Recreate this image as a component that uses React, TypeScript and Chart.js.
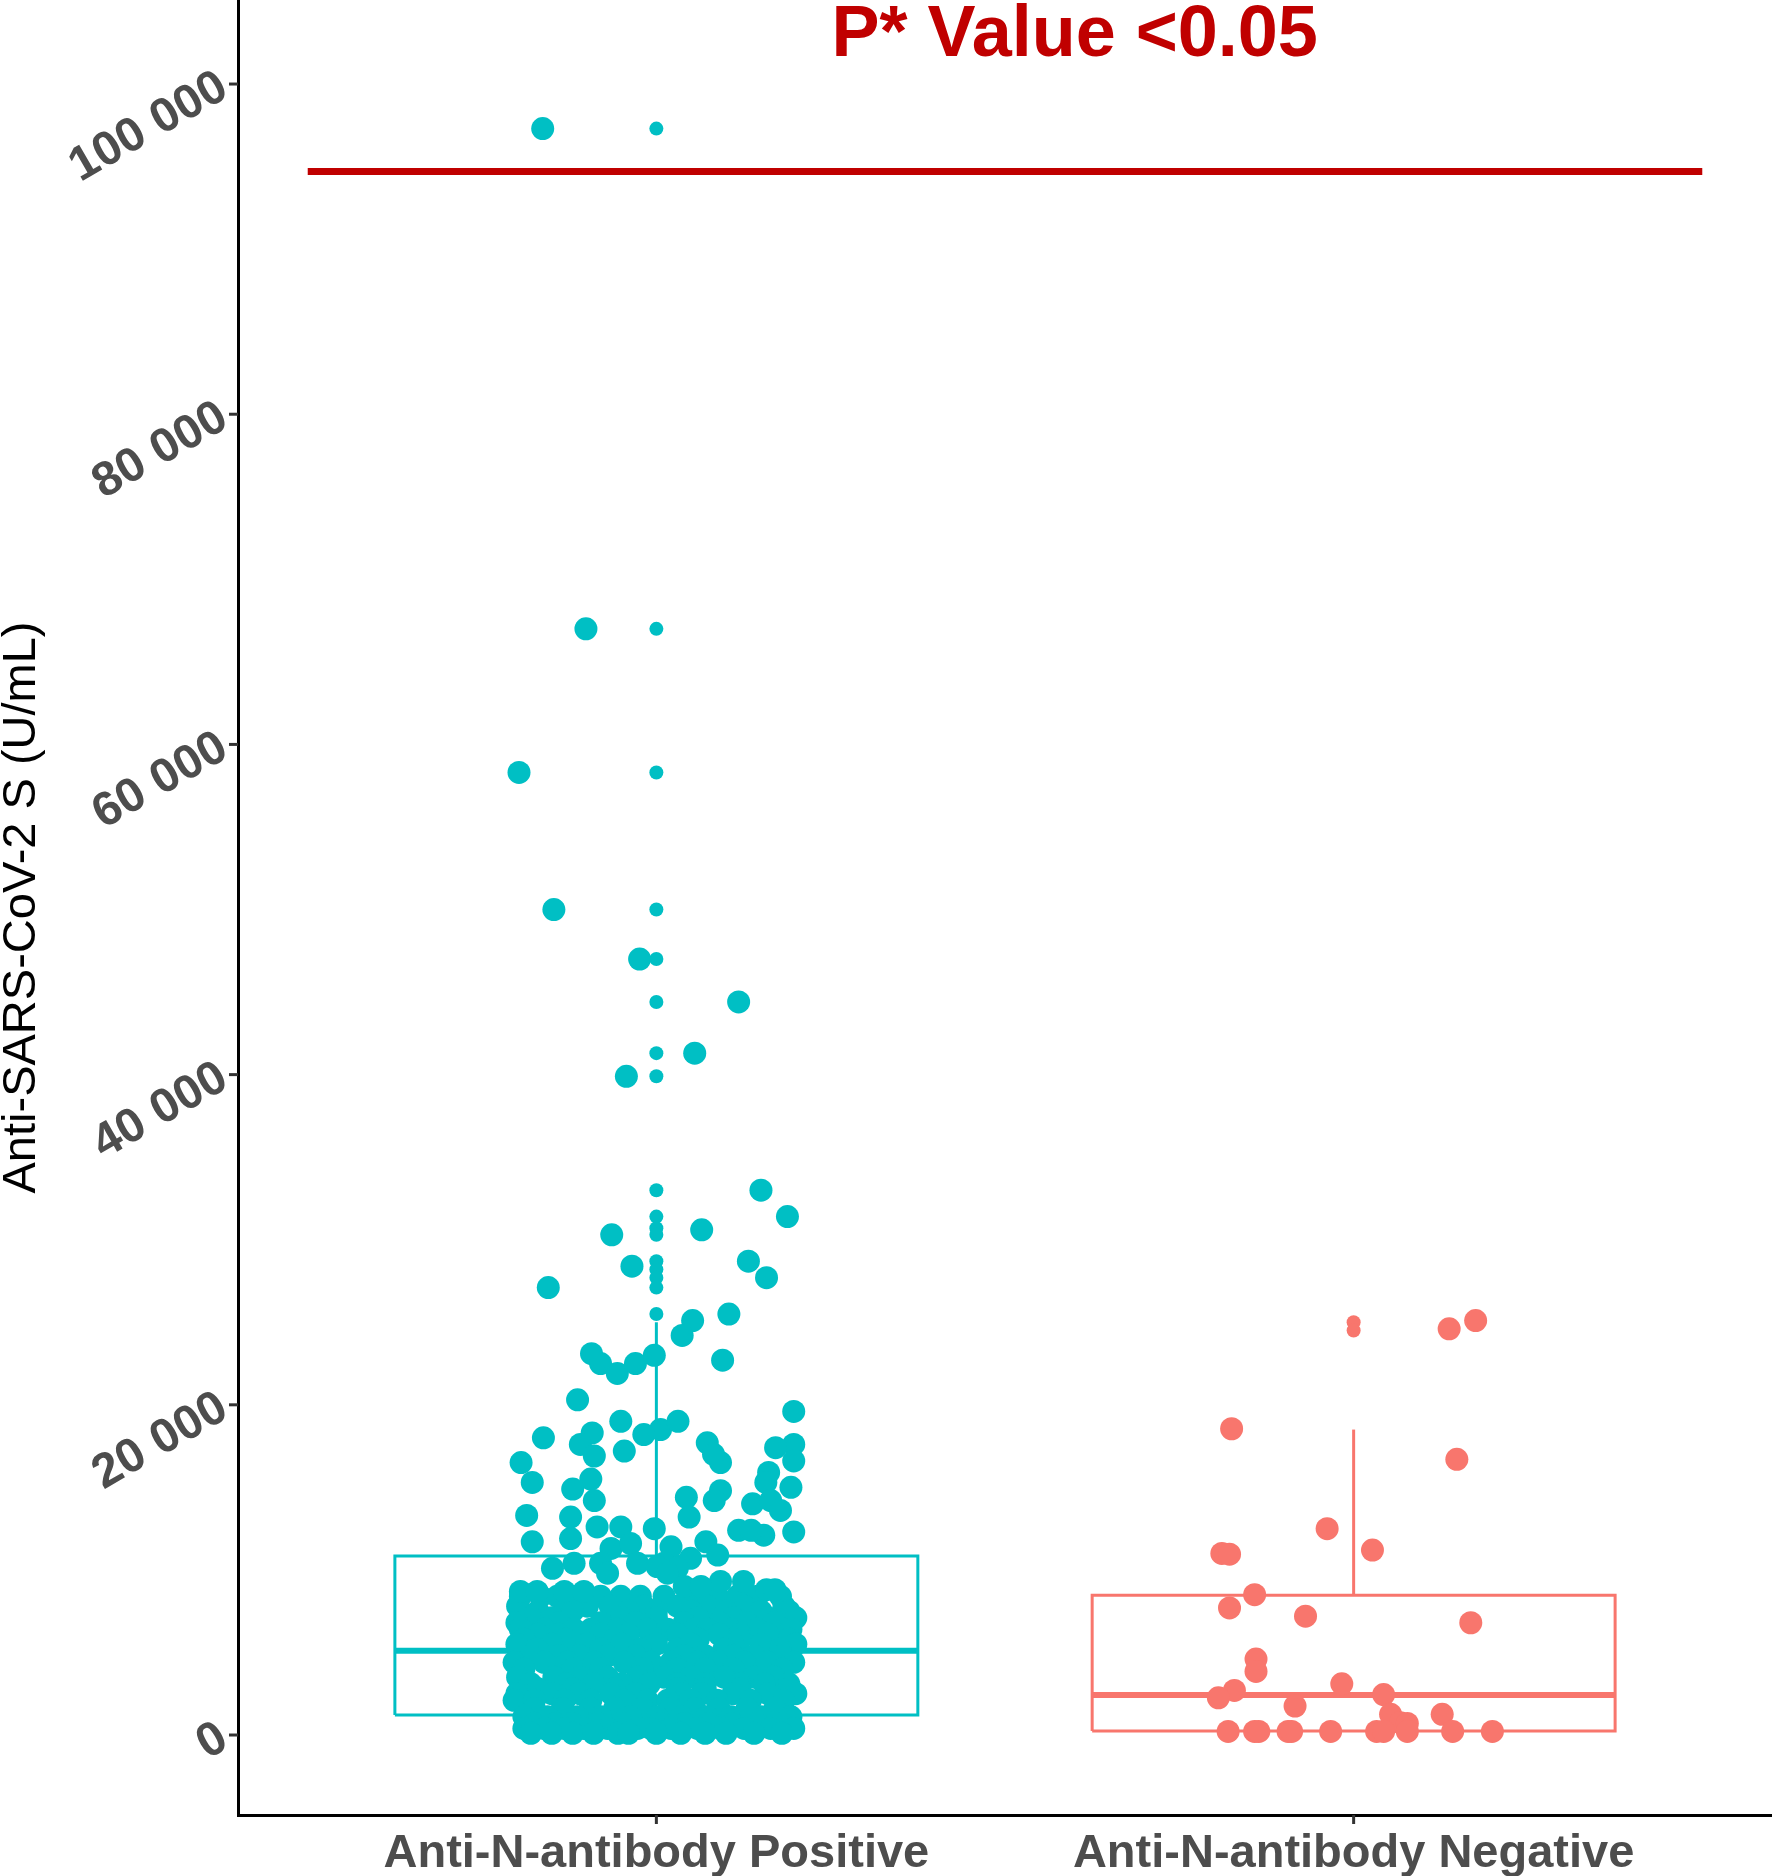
import { useEffect, useRef } from "react"
import { Chart, registerables } from "chart.js"

Chart.register(...registerables)

const FONT = "'Liberation Sans', Arial, sans-serif"

// categories and their colours
const groups = ["Anti-N-antibody Positive", "Anti-N-antibody Negative"]
const groupPositions = [1, 2]
const groupColors = ["#00BFC4", "#F8766D"]

// box stats: lower whisker, Q1, median, Q3, upper whisker
const positiveBox = [50, 1210, 5100, 10850, 25000]
const negativeBox = [220, 240, 2420, 8460, 18500]

// boxplot outliers (drawn on the group centre)
const positiveOutliers = [97300, 67000, 58300, 50000, 47000, 44400, 41300, 39900, 33000, 31400, 30700, 30300, 28700, 28200, 27700, 27100, 25500]
const negativeOutliers = [25000, 24500]

// jittered observations, Positive group (upper, sparse part)
const posX = [
  0.837, 0.899, 0.803, 0.853, 0.976, 1.118, 1.055, 0.957, 1.15, 1.188, 0.936, 1.065, 0.965, 1.132, 1.158, 0.845,
  1.052, 1.037, 1.104, 0.907, 0.92, 0.944, 0.97, 0.997, 1.095, 0.887, 1.197, 0.949, 1.006, 1.031,
  0.838, 0.982, 0.954, 0.908, 0.891, 0.911, 0.806, 0.822, 0.906, 0.88, 0.911, 0.814, 0.877, 0.822, 0.915, 0.949,
  0.877, 0.997, 0.935, 0.963, 0.851, 0.882, 0.92, 0.93, 0.973,
  1.073, 1.092, 1.082, 1.197, 1.171, 1.197, 1.161, 1.157, 1.193, 1.092, 1.083, 1.043, 1.047, 1.138, 1.164, 1.178,
  1.118, 1.154, 1.197, 1.136, 1.021, 1.071, 1.088, 1.049, 1.011, 1.03,
  0.805, 0.829, 0.868, 0.896, 1.092, 1.125, 1.158, 1.17, 1.001, 1.016, 1.04, 1.064,
]
const posY = [
  97300, 67000, 58300, 50000, 47000, 44400, 41300, 39900, 33000, 31400, 30300, 30600, 28400, 28700, 27700, 27100,
  25100, 24200, 25500, 23100, 22500, 21900, 22500, 23000, 22700, 20300, 19600, 19000, 18500, 19000,
  18000, 18200, 17200, 18300, 17600, 16900, 16500, 15300, 15500, 14900, 14200, 13300, 13200, 11700, 12600, 12600,
  11900, 12500, 11300, 11600, 10100, 10400, 10400, 9800, 10400,
  17700, 16500, 17000, 17600, 17400, 16600, 15900, 15300, 15000, 14800, 14200, 14400, 13200, 14000, 14200, 13600,
  12400, 12100, 12300, 12400, 11400, 11700, 10900, 10700, 10400, 10100,
  8700, 8700, 8700, 8700, 9300, 9300, 8800, 8800, 10200, 9800, 9000, 9000,
]

// jittered observations, Positive group (dense mass below ~9 000)
const posDenseX = [
  0.805, 0.834, 0.858, 0.887, 0.92, 0.949, 0.977, 1.011, 1.049, 1.087, 1.116, 1.145, 1.178,
  0.801, 0.868, 0.901, 0.934, 0.982, 1.03, 1.073, 1.126, 1.183,
  0.83, 0.88, 0.96, 1.0, 1.05, 1.1, 1.15, 1.19,
  0.82, 0.85, 0.95, 1.0, 1.06, 1.11, 1.16, 1.2,
  0.8, 0.86, 0.92, 0.97, 1.04, 1.09, 1.13, 1.17,
  0.805, 0.839, 0.882, 0.906, 0.944, 0.987, 1.016, 1.054, 1.073, 1.107, 1.145, 1.193,
  0.83, 0.86, 0.92, 0.96, 1.03, 1.09, 1.12, 1.16,
  0.81, 0.87, 0.94, 1.0, 1.06, 1.12, 1.19,
  0.8, 0.85, 0.9, 0.95, 1.0, 1.05, 1.11, 1.15, 1.2,
  0.829, 0.92, 0.977, 1.03, 1.097, 1.178,
  0.82, 0.86, 0.89, 0.93, 0.97, 1.04, 1.07, 1.11, 1.14, 1.18,
  0.796, 0.839, 0.872, 0.911, 0.954, 0.992, 1.021, 1.059, 1.087, 1.126, 1.159, 1.197,
  0.81, 0.88, 0.92, 0.98, 1.03, 1.07, 1.11, 1.18,
  0.801, 0.853, 0.891, 0.93, 0.973, 1.011, 1.049, 1.097, 1.14, 1.169,
  0.82, 0.87, 0.91, 0.95, 0.99, 1.03, 1.07, 1.12, 1.155, 1.19,
  0.83, 0.88, 0.94, 1.03, 1.07, 1.12, 1.19,
  0.8, 0.85, 0.89, 0.935, 0.97, 1.035, 1.065, 1.11, 1.16, 1.2,
  0.796, 0.825, 0.868, 0.906, 0.954, 0.987, 1.016, 1.049, 1.087, 1.135, 1.183,
  0.825, 0.865, 0.905, 0.94, 0.98, 1.02, 1.055, 1.09, 1.13, 1.17,
  0.81, 0.844, 0.887, 0.92, 0.963, 1.001, 1.035, 1.073, 1.107, 1.15, 1.193,
  0.825, 0.855, 0.88, 0.915, 0.95, 1.005, 1.04, 1.075, 1.11, 1.145, 1.18,
  0.81, 0.839, 0.868, 0.896, 0.93, 0.973, 0.992, 1.021, 1.059, 1.092, 1.126, 1.164, 1.197,
  0.82, 0.85, 0.88, 0.91, 0.945, 0.96, 1.0, 1.035, 1.07, 1.1, 1.14, 1.18,
]
const posDenseY = [
  8400, 8400, 8400, 8400, 8400, 8400, 8400, 8400, 8400, 8400, 8400, 8400, 8400,
  7800, 7800, 7800, 7800, 7800, 7800, 7800, 7800, 7800,
  7500, 7500, 7500, 7500, 7500, 7500, 7500, 7500,
  7100, 7100, 7100, 7100, 7100, 7100, 7100, 7100,
  6800, 6800, 6800, 6800, 6800, 6800, 6800, 6800,
  6400, 6400, 6400, 6400, 6400, 6400, 6400, 6400, 6400, 6400, 6400, 6400,
  6100, 6100, 6100, 6100, 6100, 6100, 6100, 6100,
  5800, 5800, 5800, 5800, 5800, 5800, 5800,
  5500, 5500, 5500, 5500, 5500, 5500, 5500, 5500, 5500,
  5200, 5200, 5200, 5200, 5200, 5200,
  4800, 4800, 4800, 4800, 4800, 4800, 4800, 4800, 4800, 4800,
  4400, 4400, 4400, 4400, 4400, 4400, 4400, 4400, 4400, 4400, 4400, 4400,
  4000, 4000, 4000, 4000, 4000, 4000, 4000, 4000,
  3500, 3500, 3500, 3500, 3500, 3500, 3500, 3500, 3500, 3500,
  3100, 3100, 3100, 3100, 3100, 3100, 3100, 3100, 3100, 3100,
  2800, 2800, 2800, 2800, 2800, 2800, 2800,
  2500, 2500, 2500, 2500, 2500, 2500, 2500, 2500, 2500, 2500,
  2100, 2100, 2100, 2100, 2100, 2100, 2100, 2100, 2100, 2100, 2100,
  1600, 1600, 1600, 1600, 1600, 1600, 1600, 1600, 1600, 1600,
  1100, 1100, 1100, 1100, 1100, 1100, 1100, 1100, 1100, 1100, 1100,
  700, 700, 700, 700, 700, 700, 700, 700, 700, 700, 700,
  400, 400, 400, 400, 400, 400, 400, 400, 400, 400, 400, 400, 400,
  100, 100, 100, 100, 100, 100, 100, 100, 100, 100, 100, 100,
]

// jittered observations, Negative group
const negX = [
  2.175, 2.137, 1.825, 2.148, 1.962, 2.027, 1.811, 1.822, 1.858, 1.822, 1.931, 2.168, 1.86, 1.86, 1.983, 1.829,
  1.806, 2.043, 1.916, 2.053, 2.067, 2.077, 2.127,
  1.82, 1.858, 1.864, 1.906, 1.911, 1.967, 2.033, 2.043, 2.077, 2.142, 2.199,
]
const negY = [
  25100, 24600, 18550, 16700, 12500, 11200, 11000, 10950, 8500, 7700, 7200, 6800, 4600, 3850, 3100, 2700,
  2250, 2450, 1750, 1250, 750, 700, 1250,
  220, 220, 220, 220, 220, 220, 220, 220, 220, 220, 220,
]

const yTicks = [0, 20000, 40000, 60000, 80000, 100000]
const yMin = -4845
const yMax = 105090
const xMin = 0.4
const xMax = 2.6
const boxHalfWidth = 0.375

const pLine = [0.5, 2.5]
const pLineValue = 94700
const pLabel = "P* Value <0.05"
const pLabelX = 1.6
const pLabelValue = 101700
const yTitle = "Anti-SARS-CoV-2 S (U/mL)"

const fmt = (v: number) => String(v).replace(/\B(?=(\d{3})+(?!\d))/g, " ")

const seg = (color: string, width: number, pts: { x: number; y: number }[], order: number) => ({
  data: pts,
  showLine: true,
  borderColor: color,
  borderWidth: width,
  pointRadius: 0,
  fill: false,
  borderJoinStyle: "miter" as const,
  order,
})

const boxDatasets = (g: number, s: number[], color: string) => {
  const [lo, q1, med, q3, hi] = s
  const l = g - boxHalfWidth
  const r = g + boxHalfWidth
  return [
    seg(color, 3, [{ x: l, y: q1 }, { x: r, y: q1 }, { x: r, y: q3 }, { x: l, y: q3 }, { x: l, y: q1 }], 2),
    seg(color, 6, [{ x: l, y: med }, { x: r, y: med }], 2),
    seg(color, 3, [{ x: g, y: q3 }, { x: g, y: hi }], 2),
    seg(color, 3, [{ x: g, y: q1 }, { x: g, y: lo }], 2),
  ]
}

const textPlugin = {
  id: "textPlugin",
  afterDraw(chart: any) {
    const { ctx, chartArea, scales } = chart
    const xs = scales.x
    const ys = scales.y
    ctx.save()

    // tick marks
    ctx.strokeStyle = "#333333"
    ctx.lineWidth = 3
    yTicks.forEach((v) => {
      const py = ys.getPixelForValue(v)
      ctx.beginPath()
      ctx.moveTo(chartArea.left - 9, py)
      ctx.lineTo(chartArea.left, py)
      ctx.stroke()
    })
    groupPositions.forEach((g) => {
      const px = xs.getPixelForValue(g)
      ctx.beginPath()
      ctx.moveTo(px, chartArea.bottom)
      ctx.lineTo(px, chartArea.bottom + 9)
      ctx.stroke()
    })

    // y tick labels, rotated
    ctx.fillStyle = "#4D4D4D"
    ctx.font = `bold 48px ${FONT}`
    ctx.textAlign = "right"
    ctx.textBaseline = "middle"
    yTicks.forEach((v) => {
      const py = ys.getPixelForValue(v)
      ctx.save()
      ctx.translate(chartArea.left - 14, py)
      ctx.rotate(-Math.PI / 6)
      ctx.fillText(fmt(v), 0, 0)
      ctx.restore()
    })

    // x tick labels
    ctx.font = `bold 47px ${FONT}`
    ctx.textAlign = "center"
    ctx.textBaseline = "alphabetic"
    groups.forEach((name, i) => {
      ctx.fillText(name, xs.getPixelForValue(groupPositions[i]), chartArea.bottom + 52)
    })

    // y axis title
    ctx.fillStyle = "#000000"
    ctx.font = `47px ${FONT}`
    ctx.textAlign = "center"
    ctx.textBaseline = "middle"
    ctx.save()
    ctx.translate(22, (chartArea.top + chartArea.bottom) / 2)
    ctx.rotate(-Math.PI / 2)
    ctx.fillText(yTitle, 0, 0)
    ctx.restore()

    // p-value label
    ctx.fillStyle = "#C00000"
    ctx.font = `bold 72px ${FONT}`
    ctx.textBaseline = "alphabetic"
    ctx.fillText(pLabel, xs.getPixelForValue(pLabelX), ys.getPixelForValue(pLabelValue))

    ctx.restore()
  },
}

export default function App() {
  const chartRef = useRef<HTMLCanvasElement>(null)
  const chartInstance = useRef<Chart | null>(null)

  useEffect(() => {
    document.body.style.margin = "0"
    if (!chartRef.current) return
    const ctx = chartRef.current.getContext("2d")
    if (!ctx) return

    if (chartInstance.current) chartInstance.current.destroy()

    const pointSet = (xs: number[], ys: number[], color: string, radius: number, order: number) => ({
      data: xs.map((x, i) => ({ x, y: ys[i] })),
      backgroundColor: color,
      borderWidth: 0,
      pointRadius: radius,
      order,
    })

    chartInstance.current = new Chart(ctx, {
      type: "scatter",
      data: {
        datasets: [
          pointSet(posX, posY, groupColors[0], 11.5, 0),
          pointSet(posDenseX, posDenseY, groupColors[0], 11.5, 0),
          pointSet(negX, negY, groupColors[1], 11.5, 0),
          pointSet(positiveOutliers.map(() => groupPositions[0]), positiveOutliers, groupColors[0], 7, 1),
          pointSet(negativeOutliers.map(() => groupPositions[1]), negativeOutliers, groupColors[1], 7, 1),
          ...boxDatasets(groupPositions[0], positiveBox, groupColors[0]),
          ...boxDatasets(groupPositions[1], negativeBox, groupColors[1]),
          seg("#C00000", 7, [{ x: pLine[0], y: pLineValue }, { x: pLine[1], y: pLineValue }], 3),
        ] as any,
      },
      options: {
        responsive: false,
        animation: false,
        events: [],
        layout: { padding: 0, autoPadding: false },
        plugins: {
          legend: { display: false },
          tooltip: { enabled: false },
        },
        scales: {
          x: {
            type: "linear",
            min: xMin,
            max: xMax,
            grid: { display: false },
            ticks: { display: false },
            border: { display: true, color: "#000000", width: 3 },
            afterFit: (s: any) => {
              s.height = 61
            },
          },
          y: {
            type: "linear",
            min: yMin,
            max: yMax,
            grid: { display: false },
            ticks: { display: false },
            border: { display: true, color: "#000000", width: 3 },
            afterFit: (s: any) => {
              s.width = 238
            },
          },
        },
      },
      plugins: [textPlugin],
    })

    return () => {
      if (chartInstance.current) {
        chartInstance.current.destroy()
        chartInstance.current = null
      }
    }
  }, [])

  return (
    <div style={{ width: 1772, height: 1876, background: "#ffffff" }}>
      <canvas ref={chartRef} width={1772} height={1876}></canvas>
    </div>
  )
}
